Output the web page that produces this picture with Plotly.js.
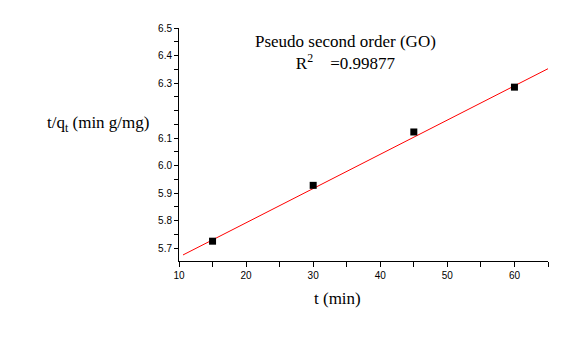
<!DOCTYPE html>
<html><head><meta charset="utf-8">
<script src="https://cdn.plot.ly/plotly-3.0.1.min.js"></script>
<style>html,body{margin:0;padding:0;background:#fff}</style>
</head><body>
<div id="chart" style="width:577px;height:356px"></div>
<script>
const timeMin = [15, 30, 45, 60];
const tOverQ = [5.725, 5.928, 6.122, 6.285];
const fitX = [10.6, 65];
const fitY = [5.675, 6.352];
const yTickVals = [5.7, 5.8, 5.9, 6.0, 6.1, 6.3, 6.4, 6.5];
const yTickText = ["5.7", "5.8", "5.9", "6.0", "6.1", "6.3", "6.4", "6.5"];
const xTickVals = [10, 20, 30, 40, 50, 60];
const xTickText = ["10", "20", "30", "40", "50", "60"];

const traces = [
  {x: fitX, y: fitY, mode: 'lines', line: {color: '#ff0000', width: 1}, hoverinfo: 'skip', showlegend: false},
  {x: timeMin, y: tOverQ, mode: 'markers', marker: {symbol: 'square', size: 7, color: '#000'}, showlegend: false}
];
const tickFont = {family: 'Liberation Sans, Arial, sans-serif', size: 10, color: '#000'};
const serif = 'Liberation Serif, Times New Roman, serif';
const layout = {
  width: 577, height: 356,
  margin: {l: 179, r: 29, t: 28, b: 95},
  paper_bgcolor: '#fff', plot_bgcolor: '#fff',
  showlegend: false,
  xaxis: {
    range: [10, 65], showgrid: false, zeroline: false,
    showline: true, linecolor: '#000', linewidth: 1,
    ticks: 'outside', ticklen: 5, tickcolor: '#000', tickwidth: 1,
    tickvals: xTickVals, ticktext: xTickText, tickfont: tickFont,
    minor: {dtick: 5, tick0: 10, ticks: 'outside', ticklen: 5, tickcolor: '#000'}
  },
  yaxis: {
    range: [5.653, 6.5], showgrid: false, zeroline: false,
    showline: true, linecolor: '#000', linewidth: 1,
    ticks: 'outside', ticklen: 4, tickcolor: '#000', tickwidth: 1,
    tickvals: yTickVals, ticktext: yTickText, tickfont: tickFont,
    minor: {dtick: 0.05, tick0: 5.7, ticks: 'outside', ticklen: 4, tickcolor: '#000'}
  },
  annotations: [
    {xref: 'paper', yref: 'paper', x: 0.45, y: 1.0, yshift: -2, xanchor: 'center', yanchor: 'top', showarrow: false,
     align: 'center',
     text: 'Pseudo second order (GO)<br>R<sup>2</sup>    =0.99877',
     font: {family: serif, size: 17, color: '#000'}},
    {xref: 'paper', yref: 'paper', x: 0.43, y: -0.11, xanchor: 'center', yanchor: 'top', showarrow: false,
     text: 't (min)', font: {family: serif, size: 17, color: '#000'}},
    {xref: 'paper', yref: 'paper', x: 0, xshift: -28, y: 0.59, xanchor: 'right', yanchor: 'middle', showarrow: false,
     text: 't/q<sub>t</sub> (min g/mg)', font: {family: serif, size: 17, color: '#000'}}
  ]
};
Plotly.newPlot('chart', traces, layout, {displayModeBar: false, staticPlot: true});
</script>
</body></html>
